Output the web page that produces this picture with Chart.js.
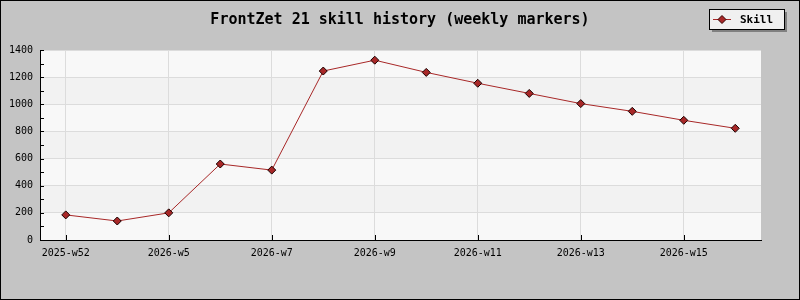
<!DOCTYPE html>
<html>
<head>
<meta charset="utf-8">
<script src="https://cdn.jsdelivr.net/npm/chart.js@4"></script>
<style>
  body { margin: 0; background: #c4c4c4; }
  #wrap { width: 800px; height: 300px; }
</style>
</head>
<body>
<div id="wrap"><canvas id="skillChart" width="800" height="300"></canvas></div>
<script>
const weeks = ['2025-w52', '2026-w3', '2026-w5', '2026-w6', '2026-w7', '2026-w8', '2026-w9',
  '2026-w10', '2026-w11', '2026-w12', '2026-w13', '2026-w14', '2026-w15', '2026-w16'];
const skill = [185, 140, 200, 560, 515, 1245, 1325, 1235, 1155, 1080, 1005, 948, 882, 823];
const yTicks = [0, 200, 400, 600, 800, 1000, 1200, 1400];

const titleText = 'FrontZet 21 skill history (weekly markers)';
const lineColor = '#a82828';
const mono = "'DejaVu Sans Mono', 'Liberation Mono', monospace";

// background, bands, title, legend box, inner ticks
const decor = {
  id: 'decor',
  beforeDraw(chart) {
    const { ctx, chartArea: a, scales: { y } } = chart;
    ctx.save();
    ctx.fillStyle = '#c4c4c4';
    ctx.fillRect(0, 0, chart.width, chart.height);
    for (let i = 0; i < yTicks.length - 1; i++) {
      const top = y.getPixelForValue(yTicks[i + 1]);
      const bot = y.getPixelForValue(yTicks[i]);
      ctx.fillStyle = i % 2 ? '#f2f2f2' : '#f8f8f8';
      ctx.fillRect(a.left, top, a.right - a.left, bot - top);
    }
    ctx.restore();
  },
  afterDraw(chart) {
    const { ctx, chartArea: a, scales: { x, y } } = chart;
    ctx.save();
    // minor + major ticks pointing inward
    ctx.strokeStyle = '#000';
    ctx.lineWidth = 1;
    ctx.beginPath();
    for (let v = 0; v <= 1400; v += 100) {
      const py = Math.round(y.getPixelForValue(v)) + 0.5;
      ctx.moveTo(a.left, py);
      ctx.lineTo(a.left + 4, py);
    }
    weeks.forEach((w, i) => {
      if (i % 2) return;
      const px = Math.round(x.getPixelForValue(i)) + 0.5;
      ctx.moveTo(px, a.bottom);
      ctx.lineTo(px, a.bottom - 5);
    });
    ctx.stroke();

    // title
    ctx.fillStyle = '#000';
    ctx.font = 'bold 15px ' + mono;
    ctx.textAlign = 'center';
    ctx.textBaseline = 'middle';
    ctx.fillText(titleText, 400, 20);

    // legend
    const bx = 709, by = 9, bw = 75, bh = 20;
    ctx.fillStyle = '#808080';
    ctx.fillRect(bx + 3, by + 3, bw, bh);
    ctx.fillStyle = '#f0f0f0';
    ctx.fillRect(bx, by, bw, bh);
    ctx.strokeStyle = '#000';
    ctx.strokeRect(bx + 0.5, by + 0.5, bw, bh);
    const ds = chart.data.datasets[0];
    ctx.strokeStyle = lineColor;
    ctx.beginPath();
    ctx.moveTo(bx + 4, by + 10.5);
    ctx.lineTo(bx + 22, by + 10.5);
    ctx.stroke();
    ctx.beginPath();
    const cx = bx + 13, cy = by + 10.5;
    ctx.moveTo(cx, cy - 4); ctx.lineTo(cx + 4, cy); ctx.lineTo(cx, cy + 4); ctx.lineTo(cx - 4, cy); ctx.closePath();
    ctx.fillStyle = lineColor;
    ctx.fill();
    ctx.strokeStyle = '#300';
    ctx.stroke();
    ctx.fillStyle = '#000';
    ctx.font = 'bold 11px ' + mono;
    ctx.textAlign = 'left';
    ctx.fillText(ds.label, bx + 31, by + 11);

    // outer border
    ctx.strokeStyle = '#000';
    ctx.strokeRect(0.5, 0.5, chart.width - 1, chart.height - 1);
    ctx.restore();
  }
};

new Chart(document.getElementById('skillChart'), {
  type: 'line',
  data: {
    labels: weeks,
    datasets: [{
      label: 'Skill',
      data: skill,
      borderColor: lineColor,
      borderWidth: 1,
      pointStyle: 'rectRot',
      pointRadius: 4,
      pointBackgroundColor: lineColor,
      pointBorderColor: '#1a0000',
      pointBorderWidth: 1,
      tension: 0
    }]
  },
  options: {
    responsive: false,
    animation: false,
    layout: { padding: { top: 50, right: 39, bottom: 0, left: 0 } },
    plugins: {
      legend: { display: false },
      title: { display: false },
      tooltip: { enabled: false }
    },
    scales: {
      x: {
        offset: true,
        afterFit: s => { s.height = 60; },
        border: { color: '#000', width: 1 },
        grid: {
          offset: false,
          drawTicks: false,
          color: c => (c.index % 2 ? 'rgba(0,0,0,0)' : '#dcdcdc')
        },
        ticks: {
          autoSkip: false,
          maxRotation: 0,
          padding: 7,
          color: '#000',
          font: { family: mono, size: 10 },
          callback: (v, i) => (i % 2 ? '' : weeks[i])
        }
      },
      y: {
        min: 0,
        max: 1400,
        afterFit: s => { s.width = 40; },
        border: { color: '#000', width: 1 },
        grid: { drawTicks: false, color: '#dcdcdc' },
        ticks: {
          stepSize: 200,
          padding: 7,
          color: '#000',
          font: { family: mono, size: 10 },
          callback: v => String(v)
        }
      }
    }
  },
  plugins: [decor]
});
</script>
</body>
</html>
